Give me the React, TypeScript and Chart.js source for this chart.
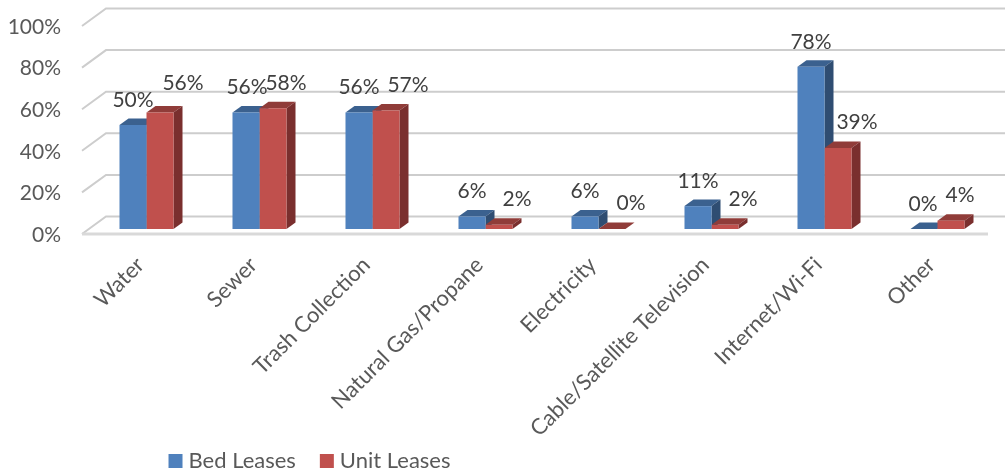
import React, { useEffect, useRef } from "react";
import { Chart, registerables } from "chart.js";

Chart.register(...registerables);

const categories = [
  "Water",
  "Sewer",
  "Trash Collection",
  "Natural Gas/Propane",
  "Electricity",
  "Cable/Satellite Television",
  "Internet/Wi-Fi",
  "Other",
];
const bedLeases = [50, 56, 56, 6, 6, 11, 78, 0];
const unitLeases = [56, 58, 57, 2, 0, 2, 39, 4];
const yTicks = [0, 20, 40, 60, 80, 100];
// hand-placed label nudges in the original chart
const bedLabelDx = [0, 1, 0, 0, 0, 0, 0, -1];
const unitLabelDx = [23, 13, 22, 18, 19, 18, 19, 9];
const unitLabelDy = [-29, -25, -25, -26, -26, -26, -26, -25];

const FONT = "Lato, Carlito, sans-serif";
const sides = [
  { top: "#3B618F", side: "#2F4D72" },
  { top: "#903C39", side: "#7A2F2E" },
];
const DEPTH_X = 9;
const DEPTH_Y = 6.5;

const chart3d = {
  id: "chart3d",
  afterLayout(chart: any) {
    const lg = chart.legend;
    if (lg) {
      lg.left = 0;
      lg.right = 624;
      lg.top = 421;
    }
    chart.scales.x.bottom = 474;
  },
  beforeDatasetsDraw(chart: any) {
    const { ctx, scales } = chart;
    const y = scales.y;
    ctx.save();
    // walls
    ctx.lineWidth = 2;
    ctx.strokeStyle = "#CDCDCD";
    for (const t of yTicks) {
      const py = y.getPixelForValue(t);
      ctx.beginPath();
      ctx.moveTo(82, py + 5);
      ctx.lineTo(106, py - 12.5);
      ctx.lineTo(1005, py - 12.5);
      ctx.stroke();
    }
    // floor front edge
    const py0 = y.getPixelForValue(0);
    ctx.strokeStyle = "#D9D9D9";
    ctx.lineWidth = 3;
    ctx.beginPath();
    ctx.moveTo(82, py0 + 5);
    ctx.lineTo(988, py0 + 5);
    ctx.stroke();
    // bar tops and sides
    const base = y.getPixelForValue(0);
    chart.data.datasets.forEach((_d: any, di: number) => {
      chart.getDatasetMeta(di).data.forEach((bar: any) => {
        const p = bar.getProps(["x", "y", "width"], true);
        const l = p.x - p.width / 2;
        const r = p.x + p.width / 2;
        ctx.fillStyle = sides[di].top;
        ctx.beginPath();
        ctx.moveTo(l, p.y);
        ctx.lineTo(l + DEPTH_X, p.y - DEPTH_Y);
        ctx.lineTo(r + DEPTH_X, p.y - DEPTH_Y);
        ctx.lineTo(r, p.y);
        ctx.closePath();
        ctx.fill();
        ctx.fillStyle = sides[di].side;
        ctx.beginPath();
        ctx.moveTo(r, p.y);
        ctx.lineTo(r + DEPTH_X, p.y - DEPTH_Y);
        ctx.lineTo(r + DEPTH_X, base - DEPTH_Y);
        ctx.lineTo(r, base);
        ctx.closePath();
        ctx.fill();
      });
    });
    ctx.restore();
  },
  afterDatasetsDraw(chart: any) {
    const { ctx } = chart;
    ctx.save();
    ctx.font = `21px ${FONT}`;
    ctx.fillStyle = "#404040";
    ctx.textAlign = "center";
    ctx.textBaseline = "middle";
    chart.data.datasets.forEach((d: any, di: number) => {
      const nudges = di === 0 ? bedLabelDx : unitLabelDx;
      chart.getDatasetMeta(di).data.forEach((bar: any, i: number) => {
        const p = bar.getProps(["x", "y"], true);
        const dy = di === 0 ? -25 : unitLabelDy[i];
        ctx.fillText(`${d.data[i]}%`, p.x + nudges[i], p.y + dy);
      });
    });
    ctx.restore();
  },
};

export default function App() {
  const ref = useRef<HTMLCanvasElement>(null);
  useEffect(() => {
    const chart = new Chart(ref.current!, {
      type: "bar",
      data: {
        labels: categories,
        datasets: [
          { label: "Bed Leases", data: bedLeases, backgroundColor: "#4F81BD", borderWidth: 0, pointStyle: "rect" },
          { label: "Unit Leases", data: unitLeases, backgroundColor: "#C0504D", borderWidth: 0, pointStyle: "rect" },
        ],
      },
      options: {
        responsive: false,
        animation: false,
        layout: { padding: { top: 21, right: 11, left: 0, bottom: 0 } },
        datasets: { bar: { categoryPercentage: 0.478, barPercentage: 1 } },
        plugins: {
          title: { display: false },
          tooltip: { enabled: false },
          legend: {
            position: "bottom",
            labels: {
              usePointStyle: true,
              boxWidth: 4,
              boxHeight: 14,
              padding: 29,
              color: "#595959",
              font: { family: FONT, size: 22 },
            },
          },
        },
        scales: {
          x: {
            grid: { display: false },
            border: { display: false },
            afterFit: (s: any) => {
              s.height = 184;
            },
            ticks: {
              autoSkip: false,
              minRotation: 45,
              maxRotation: 45,
              padding: 15,
              labelOffset: -6,
              color: "#595959",
              font: { family: FONT, size: 22 },
            },
          },
          y: {
            min: 0,
            max: 100,
            grid: { display: false, drawTicks: false },
            border: { display: false },
            afterFit: (s: any) => {
              s.width = 90;
              s.paddingTop = 0;
              s.paddingBottom = 0;
            },
            ticks: {
              stepSize: 20,
              padding: 29,
              labelOffset: 6,
              color: "#595959",
              font: { family: FONT, size: 21 },
              callback: (v: any) => `${v}%`,
            },
          },
        },
      },
      plugins: [chart3d],
    } as any);
    return () => chart.destroy();
  }, []);
  return (
    <div style={{ position: "absolute", left: 0, top: 0, width: 1005, height: 474, background: "#fff" }}>
      <canvas ref={ref} width={1005} height={474} style={{ display: "block" }} />
    </div>
  );
}
